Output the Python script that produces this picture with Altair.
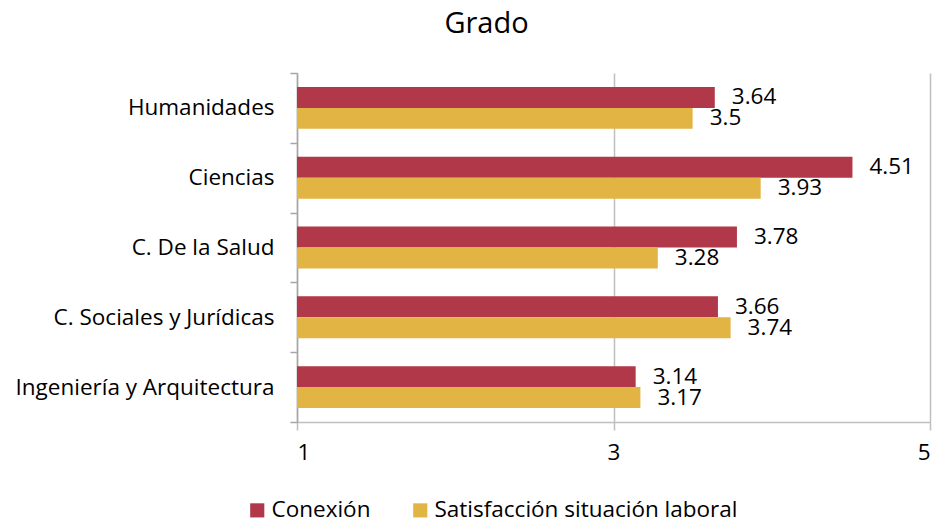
import altair as alt
import pandas as pd

categories = ["Humanidades", "Ciencias", "C. De la Salud", "C. Sociales y Jurídicas", "Ingeniería y Arquitectura"]
series = ["Conexión", "Satisfacción situación laboral"]
conexion = [3.64, 4.51, 3.78, 3.66, 3.14]
satisfaccion = [3.5, 3.93, 3.28, 3.74, 3.17]
colors = ["#B03848", "#E2B444"]
x_ticks = [1, 3, 5]

rows = []
for c, a, b in zip(categories, conexion, satisfaccion):
    rows.append({"Area": c, "Serie": series[0], "Valor": a})
    rows.append({"Area": c, "Serie": series[1], "Valor": b})
df = pd.DataFrame(rows)

FONT = "Open Sans"
FS = 22.5

y_enc = alt.Y("Area:N", sort=categories, title=None,
              scale=alt.Scale(paddingInner=0, paddingOuter=0),
              axis=alt.Axis(tickBand="extent", tickSize=7, tickColor="#A6A6A6",
                            domainColor="#A6A6A6", domainWidth=1.5, tickWidth=1.5,
                            labelFontSize=FS, labelColor="#000000", labelPadding=16,
                            labelFont=FONT, labelLimit=0))
yoff = alt.YOffset("Serie:N", sort=series, scale=alt.Scale(paddingInner=0, paddingOuter=0.667))
x_enc = alt.X("Valor:Q", title=None,
              scale=alt.Scale(domain=[1, 5], zero=False, nice=False),
              axis=alt.Axis(values=x_ticks, grid=True, gridColor="#BFBFBF", gridWidth=1.5,
                            domainColor="#BFBFBF", domainWidth=1.5, tickColor="#BFBFBF",
                            tickWidth=1.5, tickSize=8, labelFontSize=FS, labelColor="#000000",
                            labelPadding=11, labelFont=FONT, format="d"))

bars = alt.Chart(df).mark_bar().encode(
    y=y_enc,
    yOffset=yoff,
    x=x_enc,
    x2=alt.datum(1),
    color=alt.Color("Serie:N", sort=series, scale=alt.Scale(domain=series, range=colors),
                    legend=alt.Legend(title=None, orient="none", direction="horizontal",
                                      legendX=-51, legendY=426, symbolType="square",
                                      symbolSize=200, symbolStrokeWidth=0, labelFontSize=FS,
                                      labelFont=FONT, labelColor="#000000", columnPadding=38,
                                      labelOffset=3, labelLimit=400)),
)

labels = alt.Chart(df).mark_text(align="left", baseline="middle", dx=17, fontSize=FS,
                                 font=FONT, color="#000000").encode(
    y=alt.Y("Area:N", sort=categories),
    yOffset=alt.YOffset("Serie:N", sort=series),
    x=alt.X("Valor:Q"),
    text=alt.Text("Valor:Q"),
)

chart = alt.layer(bars, labels).properties(
    width=633, height=349,
    title=alt.TitleParams("Grado", fontSize=29, fontWeight="normal", font=FONT,
                          color="#000000", anchor="middle", dx=-127, offset=23),
    autosize=alt.AutoSizeParams(type="none"),
    padding={"left": 289, "top": 65, "right": 6, "bottom": 97},
).configure_view(stroke=None)

chart.save("out.html", embed_options={"renderer": "svg", "actions": False})
